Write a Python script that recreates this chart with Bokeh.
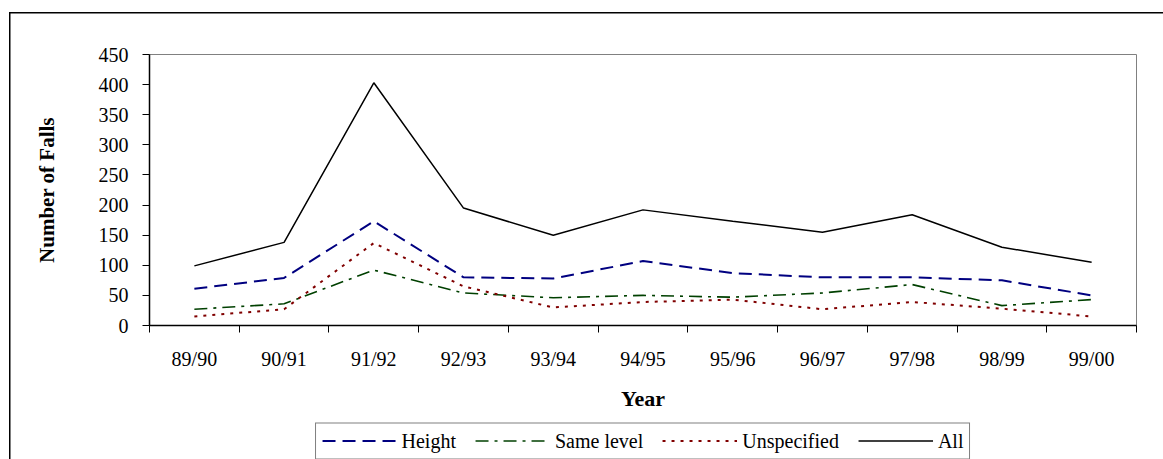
import numpy as np
from bokeh.plotting import figure
from bokeh.layouts import column
from bokeh.models import Range1d, FixedTicker, Legend, LegendItem
from bokeh.embed import file_html
from bokeh.resources import INLINE

years = ["89/90", "90/91", "91/92", "92/93", "93/94", "94/95",
         "95/96", "96/97", "97/98", "98/99", "99/00"]
height = [61, 79, 173, 80, 78, 107, 87, 80, 80, 75, 50]
same_level = [27, 36, 92, 54, 46, 50, 47, 54, 68, 33, 43]
unspecified = [15, 27, 137, 65, 30, 39, 43, 27, 39, 28, 15]
all_falls = [99, 138, 403, 195, 150, 192, 173, 155, 184, 130, 105]
y_ticks = [0, 50, 100, 150, 200, 250, 300, 350, 400, 450]
series_names = ["Height", "Same level", "Unspecified", "All"]

n = len(years)
xs = [i + 0.5 for i in range(n)]
series = [height, same_level, unspecified, all_falls]

FONT = "Liberation Serif"
styles = [dict(line_color="#000080", line_width=2, line_dash="13 7"),
          dict(line_color="#004000", line_width=1.6, line_dash="13 6 3 6"),
          dict(line_color="#800000", line_width=2, line_dash="3 6"),
          dict(line_color="black", line_width=1.5)]

p = figure(width=1163, height=422, output_backend="svg", toolbar_location=None,
           x_range=Range1d(0, n), y_range=Range1d(0, 450),
           min_border_left=149, min_border_right=27,
           min_border_top=54, min_border_bottom=97)
p.xgrid.visible = False
p.ygrid.visible = False
p.outline_line_color = "#808080"
p.outline_line_width = 1
p.background_fill_color = "white"
p.border_fill_alpha = 0
# outer chart border (left and top edges visible in the window)
p.styles = {"background": "linear-gradient(#000,#000) 9px 12px / 1.5px 100% no-repeat, "
                          "linear-gradient(#000,#000) 9px 12px / 100% 1.5px no-repeat, #fff"}

for vals, st in zip(series, styles):
    p.line(xs, vals, **st)

# x axis: labels at category centres, ticks at boundaries
xa = p.xaxis[0]
xa.ticker = FixedTicker(ticks=xs, minor_ticks=list(range(n + 1)))
xa.major_label_overrides = {x: y for x, y in zip(xs, years)}
xa.major_tick_out = 0
xa.major_tick_in = 0
xa.minor_tick_out = 7
xa.minor_tick_in = 0
xa.minor_tick_line_color = "black"
xa.axis_line_color = "black"
xa.axis_line_width = 1.5
xa.major_label_text_font = FONT
xa.major_label_text_font_size = "20px"
xa.major_label_text_color = "black"
xa.major_label_standoff = 15
xa.axis_label = "Year"
xa.axis_label_text_font = FONT
xa.axis_label_text_font_style = "bold"
xa.axis_label_text_font_size = "22px"
xa.axis_label_text_color = "black"
xa.axis_label_standoff = 13

ya = p.yaxis[0]
ya.ticker = FixedTicker(ticks=y_ticks, minor_ticks=[])
ya.major_tick_out = 7
ya.major_tick_in = 0
ya.major_tick_line_color = "black"
ya.minor_tick_line_color = None
ya.axis_line_color = "black"
ya.axis_line_width = 1.5
ya.major_label_text_font = FONT
ya.major_label_text_font_size = "20px"
ya.major_label_text_color = "black"
ya.major_label_standoff = 14
ya.axis_label = "Number of Falls"
ya.axis_label_text_font = FONT
ya.axis_label_text_font_style = "bold"
ya.axis_label_text_font_size = "21px"
ya.axis_label_text_color = "black"
ya.axis_label_standoff = 37

# legend strip below the chart (its line renderers lie outside its visible range)
pl = figure(width=1163, height=37, output_backend="svg", toolbar_location=None,
            x_range=Range1d(0, n), y_range=Range1d(1000, 1001),
            x_axis_location=None, y_axis_location=None,
            min_border_left=149, min_border_right=27,
            min_border_top=0, min_border_bottom=0)
pl.xgrid.visible = False
pl.ygrid.visible = False
pl.outline_line_color = None
pl.background_fill_alpha = 0
pl.border_fill_alpha = 0
pl.styles = {"background": "linear-gradient(#000,#000) 9px 0px / 1.5px 100% no-repeat, #fff"}

items = []
for name, vals, st in zip(series_names, series, styles):
    r = pl.line(xs, vals, **st)
    items.append(LegendItem(label=name, renderers=[r]))

legend = Legend(items=items, orientation="horizontal", location="center")
legend.border_line_color = "black"
legend.border_line_width = 1
legend.background_fill_color = "white"
legend.background_fill_alpha = 1
legend.label_text_font = FONT
legend.label_text_font_size = "20px"
legend.label_text_color = "black"
legend.glyph_width = 75
legend.glyph_height = 20
legend.label_height = 20
legend.label_standoff = 5
legend.spacing = 19
legend.padding = 6
legend.margin = 0
pl.add_layout(legend, "center")

layout = column(p, pl, spacing=0)
open("out.html", "w").write(file_html(layout, INLINE))
